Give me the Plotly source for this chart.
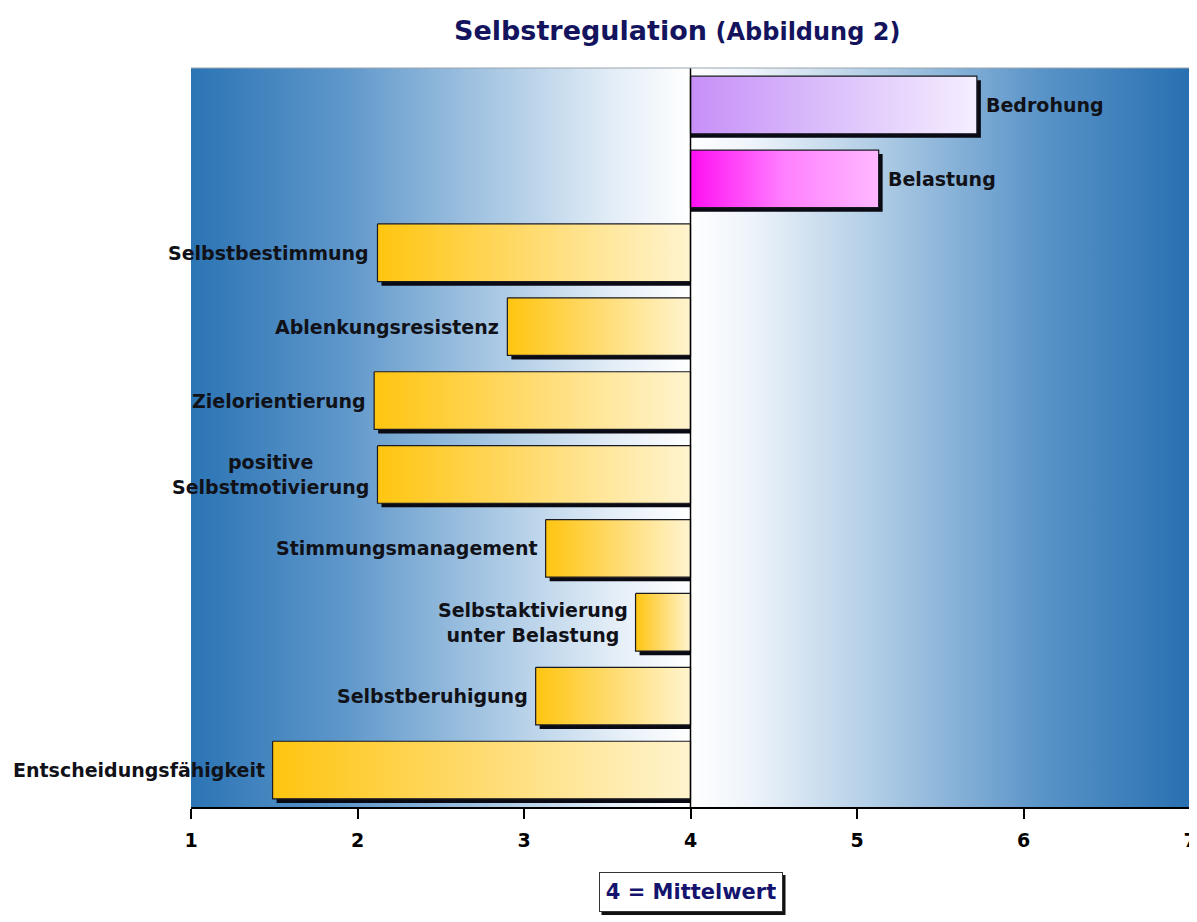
import plotly.graph_objects as go

# ---- data ----
categories = ["Bedrohung", "Belastung", "Selbstbestimmung", "Ablenkungsresistenz",
              "Zielorientierung", "positive<br>Selbstmotivierung", "Stimmungsmanagement",
              "Selbstaktivierung<br>unter Belastung", "Selbstberuhigung", "Entscheidungsfähigkeit"]
values = [5.72, 5.13, 2.12, 2.90, 2.10, 2.12, 3.13, 3.67, 3.07, 1.49]
bar_group = ["purple", "magenta", "gold", "gold", "gold", "gold", "gold", "gold", "gold", "gold"]
tick_values = [1, 2, 3, 4, 5, 6, 7]
mean_value = 4

# ---- styles ----
FONT = "DejaVu Sans, Liberation Sans, Arial"
scales = {
    "gold": [[0, "#ffc510"], [0.45, "#ffd967"], [1, "#fff4cf"]],
    "purple": [[0, "#c78ff8"], [0.5, "#dcc1fb"], [1, "#f5eeff"]],
    "magenta": [[0, "#ff0ff2"], [0.5, "#ff80ff"], [1, "#ffb8ff"]],
}
bg_left = [[0, "#2b74b4"], [0.3, "#5d96ca"], [0.6, "#a7c7e3"], [0.85, "#e4eef7"], [1, "#ffffff"]]
bg_right = [[0, "#ffffff"], [0.12, "#eef4fa"], [0.4, "#a9c8e3"], [0.7, "#5a94c8"], [1, "#2870b1"]]
half = 0.39
dx, dy = 0.024, 0.055
xmin, xmax = tick_values[0], tick_values[-1]
n = len(categories)

fig = go.Figure()

# background gradient panels
for x0, x1, cs in [(xmin, mean_value, bg_left), (mean_value, xmax, bg_right)]:
    fig.add_trace(go.Scatter(
        x=[x0, x1, x1, x0, x0], y=[-0.5, -0.5, n - 0.5, n - 0.5, -0.5],
        mode="lines", line=dict(width=0), fill="toself",
        fillgradient=dict(type="horizontal", colorscale=cs),
        hoverinfo="skip", showlegend=False))

# shadows
for i, v in enumerate(values):
    if v < mean_value:
        lo, hi = v + dx, mean_value
    else:
        lo, hi = mean_value, v + dx
    fig.add_trace(go.Scatter(
        x=[lo, hi, hi, lo, lo],
        y=[i - half + dy, i - half + dy, i + half + dy, i + half + dy, i - half + dy],
        mode="lines", line=dict(width=0, color="black"), fill="toself",
        fillcolor="#0a0a14", hoverinfo="skip", showlegend=False))

# bars
for i, (v, g) in enumerate(zip(values, bar_group)):
    lo, hi = min(v, mean_value), max(v, mean_value)
    fig.add_trace(go.Scatter(
        x=[lo, hi, hi, lo, lo],
        y=[i - half, i - half, i + half, i + half, i - half],
        mode="lines", line=dict(width=1.2, color="#1a1a22"), fill="toself",
        fillgradient=dict(type="horizontal", colorscale=scales[g]),
        hoverinfo="skip", showlegend=False))

# labels
lab_font = dict(family=FONT, size=19, color="#111118", weight="bold")
for i, (v, c) in enumerate(zip(values, categories)):
    if v < mean_value:
        fig.add_annotation(x=v, y=i, text=c, showarrow=False, xanchor="right",
                           xshift=-6, align="center", font=lab_font)
    else:
        fig.add_annotation(x=v + dx, y=i, text=c, showarrow=False, xanchor="left",
                           xshift=3, align="left", font=lab_font)

# mean line
fig.add_shape(type="line", x0=mean_value, x1=mean_value, y0=0, y1=1, yref="paper",
              line=dict(color="black", width=1.5), layer="above")
# top border
fig.add_shape(type="line", x0=0, x1=1, xref="paper", y0=1, y1=1, yref="paper",
              line=dict(color="#9aa4ad", width=1), layer="above")

# title
fig.add_annotation(
    x=0.4865, xref="paper", y=1.0514, yref="paper", yanchor="middle", showarrow=False,
    text="<b>Selbstregulation</b> <span style='font-size:24px'><b>(Abbildung 2)</b></span>",
    font=dict(family=FONT, size=27, color="#14145e"))

# legend-like box with drop shadow
box_y = -0.115
bw, bh, pad = 170, 26, 6
hw, hh = bw / 2 + pad + 1, bh / 2 + pad + 1
fig.add_shape(type="rect", xref="x", yref="paper", xsizemode="pixel", ysizemode="pixel",
              xanchor=mean_value, yanchor=box_y,
              x0=-hw + 3, x1=hw + 3, y0=-hh - 3, y1=hh - 3,
              fillcolor="#111111", line=dict(width=0), layer="above")
fig.add_annotation(x=mean_value, y=box_y, yref="paper", yanchor="middle", showarrow=False,
                   text="<b>4 = Mittelwert</b>", width=bw, height=bh,
                   font=dict(family=FONT, size=21, color="#14146e"),
                   bgcolor="white", bordercolor="#333333", borderwidth=1, borderpad=pad)

fig.update_layout(
    width=1197, height=922,
    margin=dict(l=183, r=15, t=60, b=123, autoexpand=False),
    paper_bgcolor="white", plot_bgcolor="white",
    xaxis=dict(range=[xmin, xmax], tickvals=tick_values, ticks="outside", ticklen=10,
               tickcolor="black", tickwidth=1.5, showline=True, linecolor="black", linewidth=1.5,
               showgrid=False, zeroline=False, automargin=False, ticklabelstandoff=5,
               tickfont=dict(family=FONT, size=19, color="black", weight="bold")),
    yaxis=dict(range=[n - 0.5, -0.5], visible=False, showgrid=False, zeroline=False,
               automargin=False),
    showlegend=False,
)

fig.write_html("out.html")
